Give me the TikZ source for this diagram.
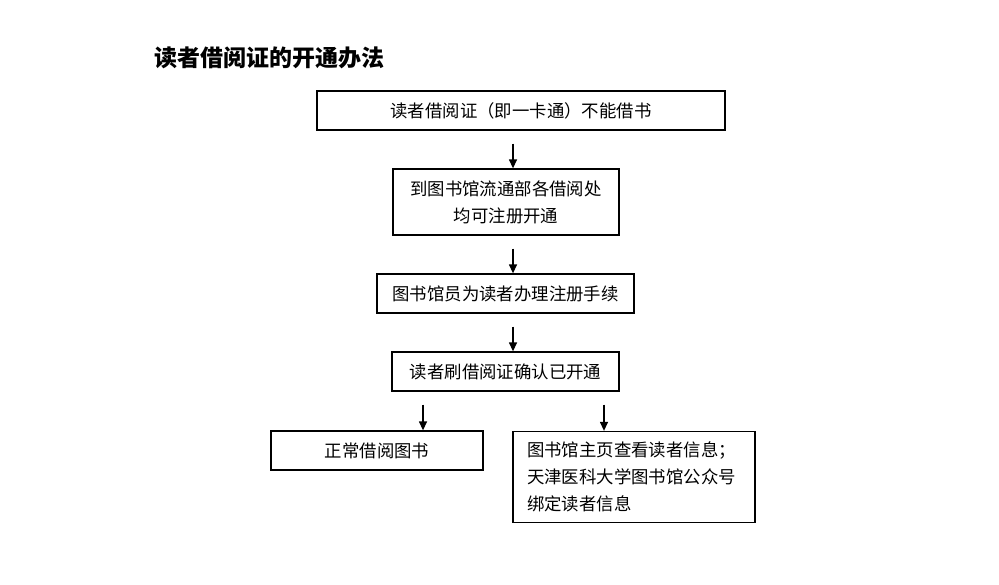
\documentclass[tikz,border=0pt]{standalone}
\usepackage{fontspec}
\setmainfont{Noto Sans CJK SC}
\usetikzlibrary{arrows.meta}
\begin{document}
\begin{tikzpicture}[x=1pt,y=-1pt,
  box/.style={draw=black,line width=1.3pt,inner sep=0pt,font=\fontsize{17.4}{27}\selectfont},
  arr/.style={line width=1.3pt,-{Triangle[length=9pt,width=8pt]}}]
\path[fill=white,use as bounding box] (0,0) rectangle (999,584);
\node[anchor=west,font=\fontsize{23}{27}\selectfont\bfseries] (title) at (151,58) {读者借阅证的开通办法};
\node[box,minimum width=408pt,minimum height=39pt] (b1) at (521,110.5) {读者借阅证（即一卡通）不能借书};
\node[box,minimum width=226pt,minimum height=66pt,align=center] (b2) at (506,202) {到图书馆流通部各借阅处\\均可注册开通};
\node[box,minimum width=257pt,minimum height=39pt] (b3) at (505.5,293.5) {图书馆员为读者办理注册手续};
\node[box,minimum width=227pt,minimum height=39pt] (b4) at (505.5,371.5) {读者刷借阅证确认已开通};
\node[box,minimum width=212pt,minimum height=39pt] (b5) at (377,450.5) {正常借阅图书};
\node[box,minimum width=242pt,minimum height=91pt,text width=214pt,align=left] (b6) at (634,477) {图书馆主页查看读者信息；\\天津医科大学图书馆公众号\\绑定读者信息};
\coordinate (ax) at (513,0);
\coordinate (lx) at (423,0);
\coordinate (rx) at (604,0);
\draw[arr] ([yshift=-13pt]b1.south -| ax) -- (b2.north -| ax);
\draw[arr] ([yshift=-13pt]b2.south -| ax) -- (b3.north -| ax);
\draw[arr] ([yshift=-13pt]b3.south -| ax) -- (b4.north -| ax);
\draw[arr] ([yshift=-13pt]b4.south -| lx) -- (b5.north -| lx);
\draw[arr] ([yshift=-13pt]b4.south -| rx) -- (b6.north -| rx);
\end{tikzpicture}
\end{document}
